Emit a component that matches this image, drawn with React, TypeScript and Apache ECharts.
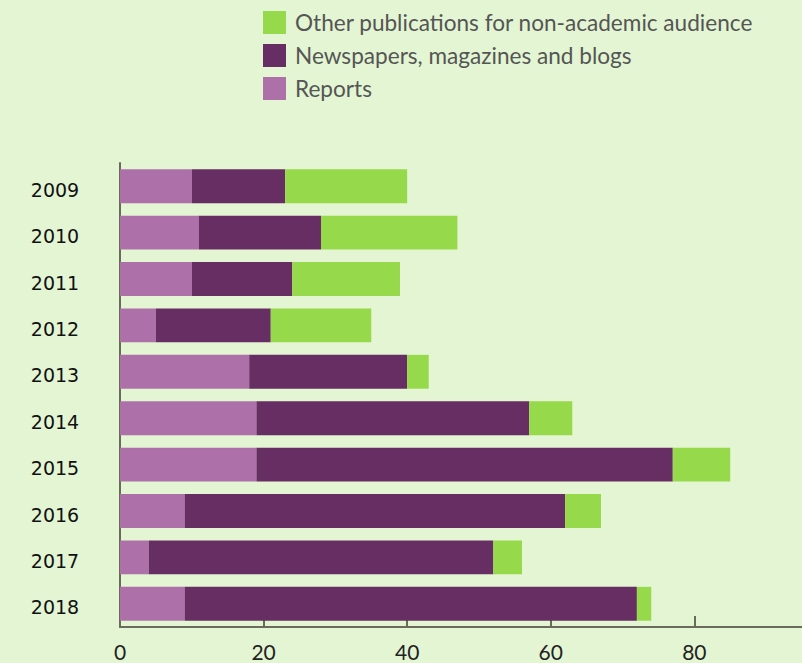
import React, { useEffect, useRef } from "react";
import * as echarts from "echarts";

const years = ["2009", "2010", "2011", "2012", "2013", "2014", "2015", "2016", "2017", "2018"];
const reports = [10, 11, 10, 5, 18, 19, 19, 9, 4, 9];
const newspapers = [13, 17, 14, 16, 22, 38, 58, 53, 48, 63];
const other = [17, 19, 15, 14, 3, 6, 8, 5, 4, 2];
const xTicks = [0, 20, 40, 60, 80];

export default function App() {
  const ref = useRef<HTMLDivElement>(null);
  useEffect(() => {
    if (!ref.current) return;
    const chart = echarts.init(ref.current, null, { renderer: "svg" });
    chart.setOption({
      animation: false,
      backgroundColor: "#e3f5d3",
      legend: {
        orient: "vertical",
        left: 258,
        top: 6,
        itemWidth: 23,
        itemHeight: 23,
        itemGap: 10,
        icon: "rect",
        data: ["Other publications for non-academic audience", "Newspapers, magazines and blogs", "Reports"],
        textStyle: { fontFamily: "Lato", fontSize: 22.6, color: "#555555", padding: [0, 0, 0, 4] },
      },
      grid: { left: 120, right: 0, top: 163, bottom: 36 },
      xAxis: {
        type: "value",
        min: 0,
        max: 95,
        interval: 20,
        splitLine: { show: false },
        axisLine: { show: true, lineStyle: { color: "#6b6b5b", width: 2 } },
        axisTick: { show: true, inside: true, length: 11, lineStyle: { color: "#6b6b5b", width: 2 } },
        axisLabel: {
          showMaxLabel: false,
          margin: 14,
          fontFamily: "Lato",
          fontSize: 21,
          color: "#222222",
          formatter: (v: number) => (xTicks.includes(v) ? String(v) : ""),
        },
      },
      yAxis: {
        type: "category",
        inverse: true,
        data: years,
        axisLine: { show: true, lineStyle: { color: "#6b6b5b", width: 2 } },
        axisTick: { show: false },
        axisLabel: {
          margin: 65,
          fontFamily: "DejaVu Sans",
          fontSize: 19,
          color: "#111111",
          align: "center",
          verticalAlign: "top",
          lineHeight: 7,
        },
      },
      series: [
        {
          name: "Reports",
          type: "bar",
          stack: "total",
          data: reports,
          barCategoryGap: "27%",
          itemStyle: { color: "#ad70a9" },
        },
        {
          name: "Newspapers, magazines and blogs",
          type: "bar",
          stack: "total",
          data: newspapers,
          itemStyle: { color: "#662e62" },
        },
        {
          name: "Other publications for non-academic audience",
          type: "bar",
          stack: "total",
          data: other,
          itemStyle: { color: "#96d94a" },
        },
      ],
    });
    return () => chart.dispose();
  }, []);
  return <div ref={ref} style={{ width: 802, height: 663, position: "absolute", left: 0, top: 0 }} />;
}
